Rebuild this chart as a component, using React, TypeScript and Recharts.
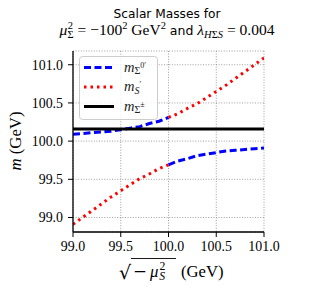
import React from 'react';
import {
  LineChart,
  Line,
  XAxis,
  YAxis,
  CartesianGrid,
  Legend,
} from 'recharts';

// sqrt(-mu_S^2) in GeV
const muS = [
  99.0, 99.1, 99.2, 99.3, 99.4, 99.5, 99.6, 99.7, 99.8, 99.9, 100.0,
  100.1, 100.2, 100.3, 100.4, 100.5, 100.6, 100.7, 100.8, 100.9, 101.0,
];
// heavier and lighter neutral eigenstates (GeV)
const upperBranch = [
  100.09, 100.1, 100.11, 100.12, 100.13, 100.15, 100.17, 100.19, 100.23, 100.26, 100.31,
  100.36, 100.43, 100.49, 100.57, 100.65, 100.73, 100.82, 100.91, 101.0, 101.09,
];
const lowerBranch = [
  98.91, 99.0, 99.09, 99.18, 99.27, 99.35, 99.43, 99.51, 99.57, 99.64, 99.69,
  99.74, 99.77, 99.81, 99.83, 99.85, 99.87, 99.88, 99.89, 99.9, 99.91,
];
const chargedMass = [
  100.16, 100.16, 100.16, 100.16, 100.16, 100.16, 100.16, 100.16, 100.16, 100.16, 100.16,
  100.16, 100.16, 100.16, 100.16, 100.16, 100.16, 100.16, 100.16, 100.16, 100.16,
];
const xTicks = [99.0, 99.5, 100.0, 100.5, 101.0];
const yTicks = [99.0, 99.5, 100.0, 100.5, 101.0];

// Sigma0' follows the upper branch below 100 GeV, S' takes over above
const data = muS.map((x, i) => ({
  x,
  sigUp: x <= 100 ? upperBranch[i] : null,
  sigLow: x >= 100 ? lowerBranch[i] : null,
  sLow: x <= 100 ? lowerBranch[i] : null,
  sUp: x >= 100 ? upperBranch[i] : null,
  charged: chargedMass[i],
}));

const SERIF = '"Liberation Serif", "DejaVu Serif", serif';
const SANS = '"DejaVu Sans", sans-serif';
const tickStyle = { fill: '#000', fontSize: 13.9, fontFamily: SERIF };

const legendItems = [
  { color: '#0000ff', dash: '7 3.5', sub: 'Σ', sup: '0′' },
  { color: '#ff0000', dash: '2.5 4', sub: 'S', sup: '′' },
  { color: '#000000', dash: undefined, sub: 'Σ', sup: '±' },
];

const LegendBox = () => (
  <svg width={80} height={64}>
    <rect x={0.5} y={0.5} width={78} height={63} rx={3} fill="rgba(255,255,255,0.8)" stroke="#cccccc" />
    {legendItems.map((it, i) => {
      const cy = 11.5 + i * 19.5;
      return (
        <g key={i}>
          <line x1={5} x2={35} y1={cy} y2={cy} stroke={it.color} strokeWidth={3} strokeDasharray={it.dash} />
          <text x={45} y={cy + 4} fontFamily={SERIF} fill="#222">
            <tspan fontStyle="italic" fontSize={14.5}>m</tspan>
            <tspan fontStyle={it.sub === 'S' ? 'italic' : 'normal'} fontSize={10} dy={2.5}>{it.sub}</tspan>
            <tspan fontSize={8} dy={-6.5}>{it.sup}</tspan>
          </text>
        </g>
      );
    })}
  </svg>
);

const App = () => {
  return (
    <div style={{ position: 'absolute', left: 0, top: 0, width: 309, height: 290, background: '#fff' }}>
      <LineChart
        width={309}
        height={290}
        data={data}
        margin={{ top: 51, right: 45, bottom: 28, left: 23 }}
      >
        <CartesianGrid stroke="#888" strokeWidth={0.8} strokeDasharray="1 1.6" />
        <XAxis
          dataKey="x"
          type="number"
          domain={[99, 101]}
          ticks={xTicks}
          tickFormatter={(v: number) => v.toFixed(1)}
          tick={tickStyle}
          tickSize={5}
          tickMargin={4}
          height={30}
          stroke="#000"
          axisLine={{ stroke: '#000', strokeWidth: 1.3 }}
          tickLine={{ stroke: '#000', strokeWidth: 1 }}
          allowDataOverflow
        />
        <XAxis
          xAxisId="top"
          orientation="top"
          dataKey="x"
          type="number"
          domain={[99, 101]}
          height={0}
          tick={false}
          tickLine={false}
          axisLine={{ stroke: '#000', strokeWidth: 1.3 }}
        />
        <YAxis
          type="number"
          domain={[98.81, 101.18]}
          ticks={yTicks}
          tickFormatter={(v: number) => v.toFixed(1)}
          tick={tickStyle}
          tickSize={5}
          tickMargin={5}
          width={50}
          axisLine={{ stroke: '#000', strokeWidth: 1.3 }}
          tickLine={{ stroke: '#000', strokeWidth: 1 }}
          allowDataOverflow
        />
        <YAxis
          yAxisId="right"
          orientation="right"
          type="number"
          domain={[98.81, 101.18]}
          width={0}
          tick={false}
          tickLine={false}
          axisLine={{ stroke: '#000', strokeWidth: 1.3 }}
        />
        <Line dataKey="sigUp" stroke="#0000ff" strokeWidth={3} strokeDasharray="7 3.5" dot={false} isAnimationActive={false} />
        <Line dataKey="sigLow" stroke="#0000ff" strokeWidth={3} strokeDasharray="7 3.5" dot={false} isAnimationActive={false} />
        <Line dataKey="sLow" stroke="#ff0000" strokeWidth={3} strokeDasharray="2.5 4" dot={false} isAnimationActive={false} />
        <Line dataKey="sUp" stroke="#ff0000" strokeWidth={3} strokeDasharray="2.5 4" dot={false} isAnimationActive={false} />
        <Line dataKey="charged" stroke="#000" strokeWidth={3} dot={false} isAnimationActive={false} />
        <Legend
          verticalAlign="middle"
          align="center"
          content={() => <LegendBox />}
          wrapperStyle={{ position: 'absolute', left: 79, top: 56, width: 80, height: 64 }}
        />
      </LineChart>
      <svg
        width={309}
        height={290}
        style={{ position: 'absolute', left: 0, top: 0, pointerEvents: 'none' }}
      >
        <text x={167} y={18} textAnchor="middle" fontFamily={SANS} fontSize={12.2} fill="#000">
          Scalar Masses for
        </text>
        <text x={167} y={35} textAnchor="middle" fontFamily={SERIF} fontSize={15.5} fill="#000">
          <tspan fontStyle="italic">μ</tspan>
          <tspan fontSize={10.5} dy={-6} dx={0.5}>2</tspan>
          <tspan fontSize={10.5} dx={-5.5} dy={9}>Σ</tspan>
          <tspan dy={-3}> = −100</tspan>
          <tspan fontSize={10.5} dy={-6}>2</tspan>
          <tspan dy={6}> GeV</tspan>
          <tspan fontSize={10.5} dy={-6}>2</tspan>
          <tspan dy={6} fontFamily={SANS} fontSize={12.5}> and </tspan>
          <tspan fontStyle="italic">λ</tspan>
          <tspan fontSize={10.5} dy={3} fontStyle="italic">H</tspan>
          <tspan fontSize={10.5}>Σ</tspan>
          <tspan fontSize={10.5} fontStyle="italic">S</tspan>
          <tspan dy={-3}> = 0.004</tspan>
        </text>
        <g transform="translate(21,141) rotate(-90)">
          <text x={0} y={0} textAnchor="middle" fontFamily={SERIF} fontSize={16.7} fill="#000">
            <tspan fontStyle="italic">m</tspan>
            <tspan> (GeV)</tspan>
          </text>
        </g>
        <text x={119} y={279} fontFamily={'"DejaVu Sans", sans-serif'} fontSize={19} fill="#000">√</text>
        <line x1={131} x2={176} y1={258.5} y2={258.5} stroke="#000" strokeWidth={0.9} />
        <text x={133} y={277} fontFamily={SERIF} fontSize={16.7} fill="#000">
          <tspan fontFamily={'"DejaVu Serif", serif'}>−</tspan>
          <tspan fontStyle="italic" dx={3}>μ</tspan>
          <tspan fontSize={11.7} dy={-7} dx={1}>2</tspan>
          <tspan fontSize={11.7} fontStyle="italic" dx={-6} dy={10}>S</tspan>
        </text>
        <text x={181} y={277} fontFamily={SERIF} fontSize={16.7} fill="#000">(GeV)</text>
      </svg>
    </div>
  );
};

export default App;
